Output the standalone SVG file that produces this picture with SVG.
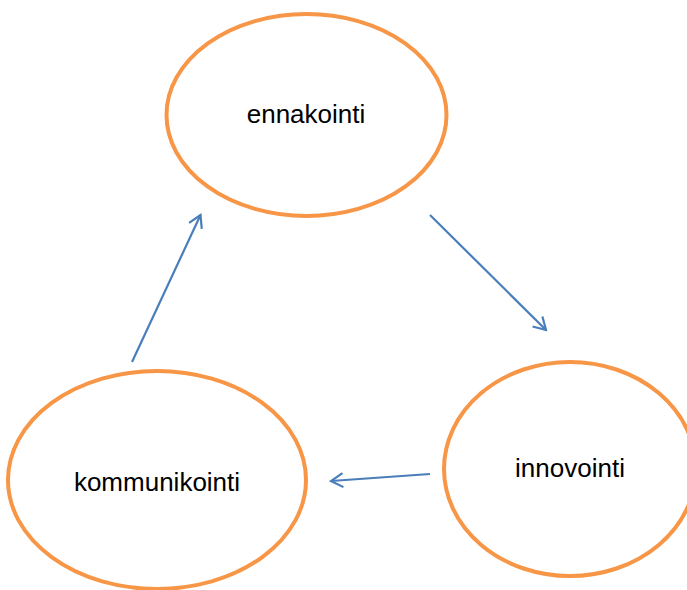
<svg xmlns="http://www.w3.org/2000/svg" width="687" height="590" viewBox="0 0 687 590">
  <style>
    .node ellipse { fill: #ffffff; stroke: #f79646; stroke-width: 4; }
    .node text { font-family: "Liberation Sans", Arial, sans-serif; font-size: 26px; fill: #000000; text-anchor: middle; }
    .edge { fill: none; stroke: #4a7ebb; stroke-width: 2.2; marker-end: url(#arrow); }
  </style>
  <defs>
    <marker id="arrow" viewBox="0 0 15 16" refX="13" refY="8" markerWidth="15" markerHeight="16" markerUnits="userSpaceOnUse" orient="auto">
      <path d="M1,1 L13,8 L1,15" fill="none" stroke="#4a7ebb" stroke-width="2.2"/>
    </marker>
  </defs>
  <rect width="687" height="590" fill="#ffffff"/>

  <g id="ennakointi" class="node">
    <ellipse cx="306.5" cy="115" rx="140" ry="101"/>
    <text x="306" y="123">ennakointi</text>
  </g>

  <g id="innovointi" class="node">
    <ellipse cx="570" cy="469" rx="126" ry="107"/>
    <text x="570" y="477">innovointi</text>
  </g>

  <g id="kommunikointi" class="node">
    <ellipse cx="157" cy="480" rx="149" ry="109"/>
    <text x="157" y="491">kommunikointi</text>
  </g>

  <g id="connectors">
    <line class="edge" x1="430" y1="215" x2="546" y2="330"/>
    <line class="edge" x1="430" y1="474" x2="331" y2="481"/>
    <line class="edge" x1="132" y1="362" x2="200.5" y2="215"/>
  </g>
</svg>
